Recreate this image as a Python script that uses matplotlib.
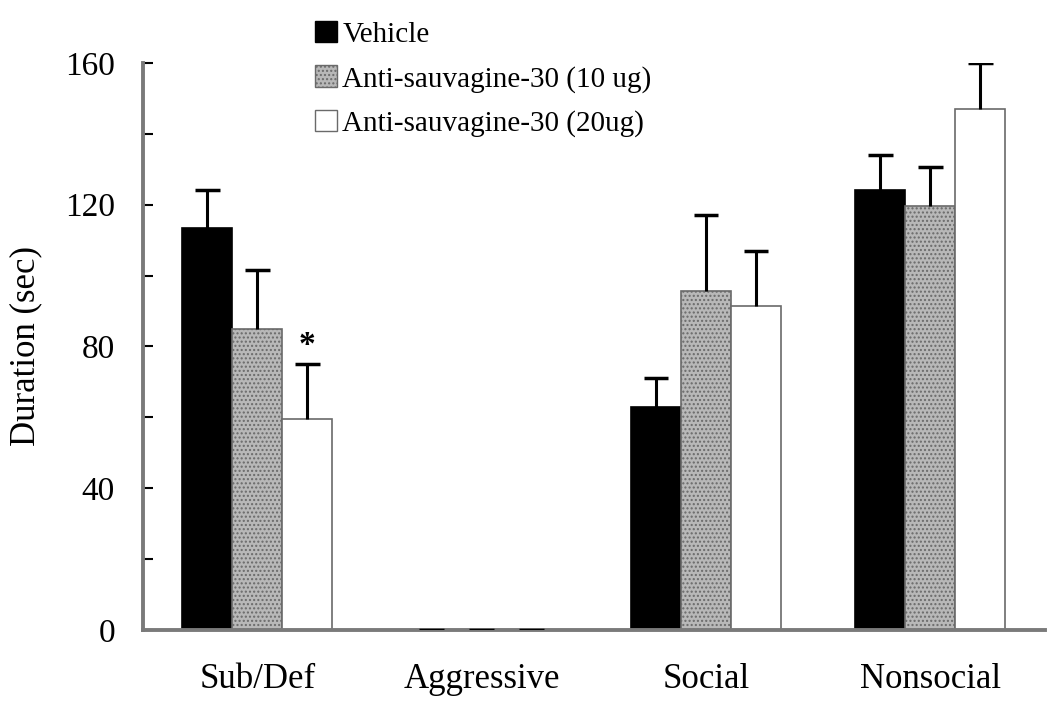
import numpy as np
import matplotlib
matplotlib.use('Agg')
from matplotlib import pyplot as plt
from matplotlib.patches import Patch

plt.rcParams['font.family'] = ['Liberation Serif', 'DejaVu Serif']

# 数据
categories = ['Sub/Def', 'Aggressive', 'Social', 'Nonsocial']
series = ['Vehicle', 'Anti-sauvagine-30 (10 ug)', 'Anti-sauvagine-30 (20ug)']
vehicle = [113.5, 0, 63, 124]
vehicle_err = [10.5, 0, 8, 10]
asv10 = [85, 0, 95.5, 119.5]
asv10_err = [16.5, 0, 21.5, 11]
asv20 = [59.5, 0, 91.5, 147]
asv20_err = [15.5, 0, 15.5, 13]
yticks = [0, 40, 80, 120, 160]

values = [vehicle, asv10, asv20]
errors = [vehicle_err, asv10_err, asv20_err]
faces = ['black', '#b8b8b8', 'white']
edges = ['black', '#6a6a6a', '#6a6a6a']
hatches = [None, '....', None]

fig = plt.figure(figsize=(10.5, 7.14), dpi=100)
ax = fig.add_axes([0.136, 0.1176, 0.859, 0.7944])

x = np.arange(len(categories))
w = 0.223
cap = 0.055
for i in range(3):
    pos = x + (i - 1) * w
    v = np.array(values[i])
    top = v + np.array(errors[i])
    ax.bar(pos, v, w, color=faces[i], edgecolor=edges[i],
           linewidth=1.2, hatch=hatches[i], zorder=2)
    # 只画上半误差线，顶端加横帽
    ax.vlines(pos, v, top, colors='black', linewidth=2.2, zorder=3)
    ax.hlines(top, pos - cap, pos + cap, colors='black', linewidth=2.5, zorder=3)

# 显著性标记
ax.text(x[0] + w, asv20[0] + asv20_err[0] + 1, '*', ha='center', va='bottom',
        fontsize=24, fontweight='bold')

ax.set_xlim(-0.51, 3.51)
ax.set_ylim(0, 160)
ax.set_yticks(yticks)
ax.set_yticks(np.arange(0, 161, 20), minor=True)
ax.set_xticks(x)
ax.set_xticklabels(categories)
ax.tick_params(axis='y', which='both', direction='in', length=7, width=1.5,
               labelsize=24, pad=20)
ax.tick_params(axis='x', length=0, labelsize=25, pad=24)
ax.set_ylabel('Duration (sec)', fontsize=25, labelpad=16)

for s in ['top', 'right']:
    ax.spines[s].set_visible(False)
for s in ['left', 'bottom']:
    ax.spines[s].set_color('#7a7a7a')
    ax.spines[s].set_linewidth(2.8)

handles = [Patch(facecolor=faces[i], edgecolor=edges[i], hatch=hatches[i])
           for i in range(3)]
fig.legend(handles, series, loc='upper left', bbox_to_anchor=(0.283, 0.995),
           frameon=False, fontsize=21, handlelength=0.75, handleheight=0.75,
           handletextpad=0.2, labelspacing=0.6, borderaxespad=0.2)

fig.savefig('out.png', dpi=100)
